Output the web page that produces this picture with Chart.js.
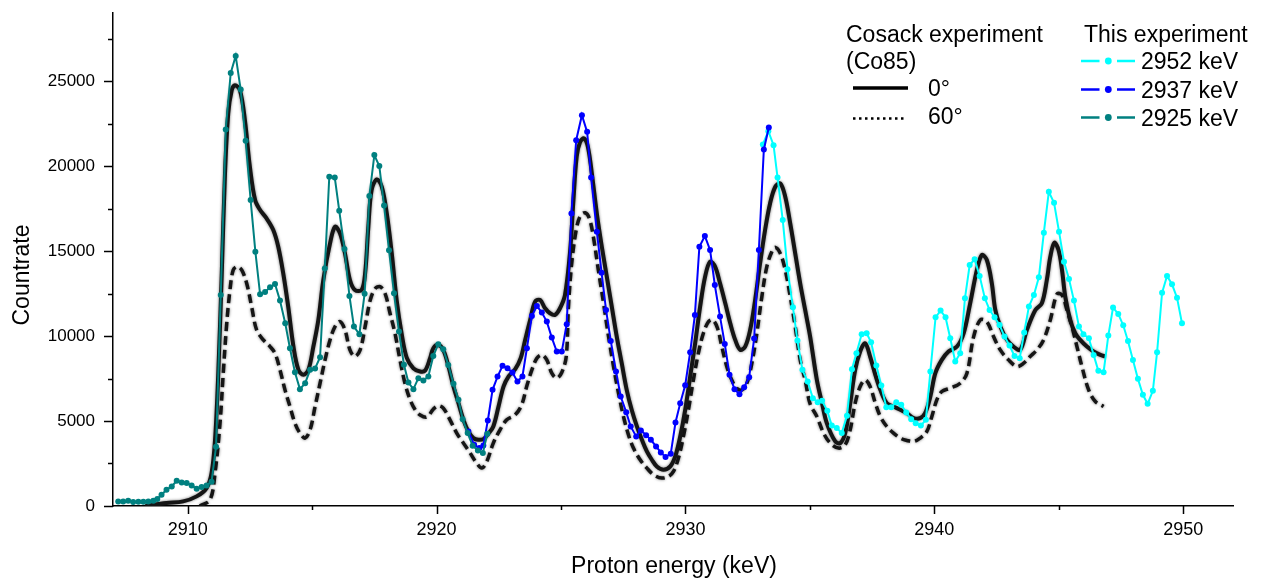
<!DOCTYPE html>
<html>
<head>
<meta charset="utf-8">
<title>Countrate vs proton energy</title>
<script src="https://cdn.jsdelivr.net/npm/chart.js@4.4.0/dist/chart.umd.min.js"></script>
<style>
  html, body { margin: 0; padding: 0; background: #ffffff; }
  canvas { display: block; }
</style>
</head>
<body>
<canvas id="spectrum" width="1265" height="581"></canvas>
<script>
// ---- Axis ticks ----
const xMajorTicks = [2910, 2920, 2930, 2940, 2950];
const xMinorTicks = [2915, 2925, 2935, 2945];
const yMajorTicks = [0, 5000, 10000, 15000, 20000, 25000];
const yMinorTicks = [2500, 7500, 12500, 17500, 22500, 27500];

// ---- This experiment: beam energy 2925 keV ----
const energy2925 = [2907.21, 2907.41, 2907.61, 2907.81, 2908.02, 2908.22, 2908.42, 2908.62, 2908.78, 2908.95,
  2909.15, 2909.36, 2909.56, 2909.76, 2909.96, 2910.16, 2910.36, 2910.56, 2910.76, 2910.96,
  2911.14, 2911.33, 2911.53, 2911.73, 2911.93, 2912.13, 2912.33, 2912.53, 2912.72, 2912.91,
  2913.11, 2913.31, 2913.51, 2913.71, 2913.92, 2914.11, 2914.31, 2914.51, 2914.72, 2914.92,
  2915.12, 2915.32, 2915.51, 2915.69, 2915.91, 2916.09, 2916.30, 2916.50, 2916.68, 2916.90,
  2917.11, 2917.30, 2917.50, 2917.70, 2917.89, 2918.09, 2918.29, 2918.49, 2918.69, 2918.87,
  2919.07, 2919.27, 2919.47, 2919.67, 2919.87, 2920.07, 2920.27, 2920.47, 2920.68, 2920.88,
  2921.05, 2921.25, 2921.45, 2921.66, 2921.86, 2922.04];
const rate2925 = [272, 272, 311, 233, 253, 253, 272, 311, 409, 664,
  958, 1153, 1486, 1388, 1350, 1212, 1016, 1114, 1212, 1428,
  3485, 12410, 22149, 25476, 26475, 24498, 21481, 17996, 14960, 12452,
  12589, 12863, 13059, 12081, 10750, 9282, 7872, 6874, 7226, 8010,
  8088, 8754, 13964, 19366, 19327, 17369, 15125, 12354, 10554, 10103,
  12491, 18232, 20641, 19994, 17682, 15041, 12510, 10260, 8302, 7265,
  6874, 7520, 7383, 7618, 8830, 9516, 9222, 8301, 7185, 6245,
  5109, 4287, 3543, 3268, 3112, 4248];

// ---- This experiment: beam energy 2937 keV ----
const energy2937 = [2921.28, 2921.51, 2921.72, 2921.88, 2922.06, 2922.25, 2922.45, 2922.65, 2922.85, 2923.05,
  2923.25, 2923.45, 2923.63, 2923.83, 2924.03, 2924.23, 2924.43, 2924.63, 2924.83, 2925.03,
  2925.23, 2925.42, 2925.61, 2925.84, 2926.05, 2926.21, 2926.44, 2926.63, 2926.81, 2927.00,
  2927.21, 2927.40, 2927.62, 2927.80, 2928.02, 2928.21, 2928.42, 2928.61, 2928.82, 2929.01,
  2929.20, 2929.41, 2929.60, 2929.79, 2929.99, 2930.19, 2930.38, 2930.56, 2930.78, 2930.99,
  2931.18, 2931.39, 2931.58, 2931.77, 2931.97, 2932.17, 2932.36, 2932.56, 2932.76, 2932.95,
  2933.15, 2933.35];
const rate2937 = [4385, 3601, 3406, 3562, 5031, 6833, 7616, 8243, 8106, 7851,
  7322, 7616, 9281, 11180, 11768, 11376, 10847, 9907, 9085, 9085,
  10691, 17212, 21520, 22989, 22010, 19327, 16135, 13726, 11533, 9711,
  7910, 6441, 5521, 4678, 4091, 4443, 4169, 3895, 3503, 3151,
  2877, 3073, 4913, 6049, 7107, 9046, 11239, 15253, 15880, 15058,
  13001, 11141, 9535, 7714, 6872, 6578, 6989, 7577, 9848, 15058,
  20972, 22264];

// ---- This experiment: beam energy 2952 keV ----
const energy2952 = [2933.11, 2933.33, 2933.54, 2933.70, 2933.91, 2934.10, 2934.32, 2934.50, 2934.70, 2934.91,
  2935.12, 2935.31, 2935.49, 2935.70, 2935.88, 2936.08, 2936.28, 2936.49, 2936.69, 2936.87,
  2937.08, 2937.28, 2937.46, 2937.67, 2937.87, 2938.07, 2938.27, 2938.47, 2938.67, 2938.87,
  2939.07, 2939.25, 2939.46, 2939.66, 2939.84, 2940.05, 2940.25, 2940.45, 2940.64, 2940.84,
  2941.04, 2941.23, 2941.42, 2941.62, 2941.82, 2942.03, 2942.22, 2942.42, 2942.62, 2942.82,
  2943.02, 2943.22, 2943.43, 2943.61, 2943.80, 2944.00, 2944.20, 2944.40, 2944.60, 2944.81,
  2945.01, 2945.21, 2945.41, 2945.61, 2945.81, 2945.99, 2946.21, 2946.40, 2946.59, 2946.80,
  2946.99, 2947.18, 2947.39, 2947.59, 2947.78, 2947.98, 2948.18, 2948.38, 2948.57, 2948.78,
  2948.95, 2949.15, 2949.35, 2949.55, 2949.75, 2949.95];
const rate2952 = [21266, 22050, 21226, 19327, 16820, 13922, 11690, 9731, 8008, 7322,
  6343, 6108, 6186, 5599, 4737, 4581, 4287, 5305, 8047, 8987,
  10103, 10162, 9633, 8262, 7087, 5814, 5814, 6108, 5951, 5501,
  5109, 4874, 4737, 5070, 7910, 11102, 11493, 11102, 9868, 8497,
  8987, 12218, 14176, 14509, 13530, 12218, 11533, 11102, 10651, 9966,
  9437, 8830, 8693, 10201, 11728, 12414, 13452, 16076, 18485, 17838,
  16135, 14372, 13354, 12081, 10553, 10103, 9868, 8889, 7949, 7871,
  10025, 11670, 11298, 10632, 9711, 8595, 7479, 6539, 6010, 6774,
  9046, 12551, 13530, 13041, 12255, 10751];

// ---- Cosack experiment (Co85), 0 degrees ----
const cosack0Energy = [2908.30, 2909.15, 2909.82, 2910.36, 2910.76, 2910.96, 2911.10, 2911.23, 2911.37, 2911.50,
  2911.63, 2911.77, 2911.90, 2912.10, 2912.30, 2912.50, 2912.71, 2912.91, 2913.17, 2913.44,
  2913.64, 2913.84, 2914.04, 2914.25, 2914.45, 2914.65, 2914.85, 2915.05, 2915.25, 2915.45,
  2915.72, 2915.92, 2916.12, 2916.32, 2916.52, 2916.72, 2916.99, 2917.13, 2917.26, 2917.39,
  2917.60, 2917.80, 2918.00, 2918.20, 2918.40, 2918.60, 2918.80, 2919.07, 2919.34, 2919.54,
  2919.74, 2919.87, 2920.07, 2920.27, 2920.48, 2920.68, 2920.88, 2921.08, 2921.28, 2921.48,
  2921.68, 2921.88, 2922.08, 2922.28, 2922.49, 2922.69, 2922.89, 2923.16, 2923.38, 2923.56,
  2923.76, 2923.96, 2924.16, 2924.36, 2924.56, 2924.76, 2924.96, 2925.16, 2925.37, 2925.50,
  2925.63, 2925.77, 2925.93, 2926.08, 2926.24, 2926.44, 2926.64, 2926.84, 2927.04, 2927.24,
  2927.44, 2927.64, 2927.84, 2928.05, 2928.25, 2928.45, 2928.65, 2928.85, 2929.12, 2929.39,
  2929.59, 2929.79, 2929.99, 2930.19, 2930.39, 2930.59, 2930.79, 2930.99, 2931.19, 2931.39,
  2931.60, 2931.80, 2932.00, 2932.20, 2932.40, 2932.60, 2932.80, 2933.00, 2933.20, 2933.40,
  2933.61, 2933.81, 2934.01, 2934.21, 2934.41, 2934.61, 2934.81, 2935.01, 2935.28, 2935.48,
  2935.68, 2936.02, 2936.22, 2936.42, 2936.62, 2936.82, 2937.02, 2937.22, 2937.42, 2937.63,
  2937.83, 2938.09, 2938.36, 2938.63, 2938.90, 2939.17, 2939.43, 2939.63, 2939.84, 2940.04,
  2940.30, 2940.57, 2940.91, 2941.18, 2941.44, 2941.71, 2941.91, 2942.11, 2942.31, 2942.45,
  2942.65, 2942.92, 2943.18, 2943.45, 2943.72, 2944.06, 2944.32, 2944.52, 2944.66, 2944.82,
  2944.99, 2945.13, 2945.26, 2945.46, 2945.66, 2945.86, 2946.13, 2946.40, 2946.67, 2946.87];
const cosack0Rate = [0, 174, 272, 566, 1056, 1938, 3895, 7812, 13687, 19562,
  23087, 24458, 24751, 24458, 22696, 19953, 17996, 17408, 16918, 16233,
  15253, 13687, 11729, 9378, 8008, 7714, 8008, 9378, 10945, 13295,
  15449, 16428, 16036, 14862, 13295, 12707, 12707, 13687, 16428, 18584,
  19210, 18780, 17212, 14862, 12080, 10119, 8734, 8100, 7910, 7968,
  8693, 9281, 9476, 9183, 8203, 7028, 6049, 5070, 4385, 3993,
  3895, 3934, 4248, 4678, 5853, 7028, 7616, 8047, 8693, 9770,
  10945, 12022, 12120, 11631, 11337, 11239, 11631, 12400, 15058, 17995,
  20541, 21422, 21618, 21128, 19562, 17212, 15253, 13491, 11728, 9966,
  8399, 6833, 5658, 4678, 3895, 3210, 2720, 2328, 2133, 2328,
  2916, 4091, 5658, 7616, 9574, 11728, 13491, 14372, 14078, 13099,
  11924, 10749, 9770, 9183, 9378, 10358, 12120, 14274, 16233, 17799,
  18778, 18974, 18191, 16624, 14862, 13099, 11533, 9966, 7420, 6100,
  4874, 3797, 3699, 4287, 6049, 8008, 9085, 9574, 8791, 7714,
  6833, 6049, 5853, 5658, 5462, 5168, 5168, 5462, 6441, 7812,
  8595, 9085, 9378, 10162, 11924, 13883, 14764, 14470, 13099, 11533,
  10553, 9770, 9378, 9183, 10358, 11533, 11924, 13295, 14666, 15488,
  15058, 13883, 12316, 10945, 10162, 9770, 9378, 9085, 8889, 8791];

// ---- Cosack experiment (Co85), 60 degrees ----
const cosack60Energy = [2910.49, 2910.90, 2911.10, 2911.30, 2911.43, 2911.57, 2911.70, 2911.83, 2911.99, 2912.17,
  2912.37, 2912.57, 2912.77, 2913.04, 2913.31, 2913.51, 2913.71, 2913.91, 2914.11, 2914.31,
  2914.51, 2914.72, 2914.92, 2915.12, 2915.32, 2915.52, 2915.72, 2915.92, 2916.12, 2916.32,
  2916.52, 2916.72, 2916.93, 2917.13, 2917.33, 2917.53, 2917.73, 2917.93, 2918.13, 2918.33,
  2918.53, 2918.73, 2918.94, 2919.14, 2919.34, 2919.61, 2919.87, 2920.07, 2920.27, 2920.54,
  2920.81, 2921.08, 2921.35, 2921.61, 2921.82, 2922.02, 2922.28, 2922.55, 2922.82, 2923.16,
  2923.42, 2923.62, 2923.83, 2924.03, 2924.23, 2924.43, 2924.63, 2924.83, 2925.03, 2925.21,
  2925.30, 2925.43, 2925.61, 2925.77, 2925.97, 2926.14, 2926.30, 2926.50, 2926.71, 2926.91,
  2927.11, 2927.31, 2927.51, 2927.71, 2927.91, 2928.18, 2928.45, 2928.72, 2929.05, 2929.32,
  2929.52, 2929.72, 2929.92, 2930.12, 2930.32, 2930.52, 2930.72, 2930.93, 2931.10, 2931.29,
  2931.46, 2931.66, 2931.86, 2932.06, 2932.27, 2932.47, 2932.67, 2932.87, 2933.07, 2933.27,
  2933.47, 2933.61, 2933.81, 2934.01, 2934.21, 2934.41, 2934.61, 2934.81, 2935.01, 2935.28,
  2935.55, 2935.82, 2936.15, 2936.42, 2936.62, 2936.82, 2937.02, 2937.22, 2937.42, 2937.63,
  2937.83, 2938.09, 2938.36, 2938.63, 2938.90, 2939.17, 2939.43, 2939.70, 2939.90, 2940.10,
  2940.30, 2940.64, 2941.04, 2941.31, 2941.58, 2941.85, 2942.11, 2942.38, 2942.65, 2942.98,
  2943.32, 2943.59, 2943.85, 2944.12, 2944.39, 2944.66, 2944.93, 2945.13, 2945.33, 2945.53,
  2945.73, 2945.93, 2946.20, 2946.47, 2946.80];
const cosack60Rate = [0, 370, 1938, 4876, 7812, 10750, 12707, 13883, 14079, 13883,
  13100, 11729, 10358, 9771, 9378, 8986, 8008, 6833, 5853, 4876,
  4288, 3994, 4483, 5853, 7224, 8595, 9771, 10554, 10847, 10358,
  9183, 8791, 9183, 10554, 12080, 12785, 12903, 12511, 11337, 10162,
  8595, 7224, 6245, 5658, 5350, 5227, 5697, 5893, 5756, 5070,
  4287, 3699, 3112, 2524, 2231, 2622, 3699, 4483, 5070, 5364,
  5951, 7028, 8008, 8693, 8889, 8595, 7812, 7518, 7851, 8791,
  11728, 14274, 16233, 17055, 17251, 16918, 15841, 13883, 11924, 9966,
  8203, 6637, 5266, 4189, 3406, 2720, 2231, 1839, 1643, 1741,
  2035, 2818, 4091, 5658, 7420, 8987, 10162, 10847, 10945, 10456,
  9378, 8203, 7420, 6931, 6833, 7224, 8399, 10162, 12316, 14078,
  14960, 15215, 14862, 13883, 12316, 10553, 8595, 7400, 6000, 5266,
  4287, 3699, 3406, 3601, 4483, 6049, 7028, 7420, 7028, 6049,
  5266, 4678, 4287, 3993, 3856, 3797, 3993, 4385, 5266, 6245,
  6735, 6931, 7224, 7812, 9966, 10945, 10847, 9966, 9183, 8595,
  8203, 8399, 8791, 9183, 9770, 10945, 12473, 12414, 11533, 10553,
  9378, 8203, 6833, 6147, 5853];

const FONT = '"Liberation Sans", Arial, Helvetica, sans-serif';
const INK = '#000000';

function toPoints(xs, ys) {
  return xs.map((x, i) => ({ x: x, y: ys[i] }));
}

function measuredSeries(label, xs, ys, color, order) {
  return {
    label: label,
    data: toPoints(xs, ys),
    borderColor: color,
    backgroundColor: color,
    pointBackgroundColor: color,
    borderWidth: 2,
    pointRadius: 3,
    pointHoverRadius: 3,
    pointBorderWidth: 0,
    tension: 0,
    fill: false,
    order: order
  };
}

// Soft, scanned-ink look for the two reference curves
const inkHaze = {
  id: 'inkHaze',
  beforeDatasetDraw(chart, args) {
    const ds = chart.data.datasets[args.index];
    if (!ds.haze) return;
    const ctx = chart.ctx;
    ctx.save();
    ctx.shadowColor = 'rgba(0,0,0,0.55)';
    ctx.shadowBlur = 3;
  },
  afterDatasetDraw(chart, args) {
    const ds = chart.data.datasets[args.index];
    if (ds.haze) chart.ctx.restore();
  }
};

// Outward tick marks: long at labelled values, short in between
const tickMarks = {
  id: 'tickMarks',
  afterDraw(chart) {
    const { ctx, chartArea } = chart;
    const xs = chart.scales.x, ys = chart.scales.y;
    ctx.save();
    ctx.strokeStyle = INK;
    ctx.lineWidth = 1.5;
    ctx.beginPath();
    xMajorTicks.forEach(v => {
      const px = Math.round(xs.getPixelForValue(v)) + 0.5;
      ctx.moveTo(px, chartArea.bottom); ctx.lineTo(px, chartArea.bottom + 8);
    });
    xMinorTicks.forEach(v => {
      const px = Math.round(xs.getPixelForValue(v)) + 0.5;
      ctx.moveTo(px, chartArea.bottom); ctx.lineTo(px, chartArea.bottom + 4);
    });
    yMajorTicks.forEach(v => {
      const py = Math.round(ys.getPixelForValue(v)) + 0.5;
      ctx.moveTo(chartArea.left, py); ctx.lineTo(chartArea.left - 9, py);
    });
    yMinorTicks.forEach(v => {
      const py = Math.round(ys.getPixelForValue(v)) + 0.5;
      ctx.moveTo(chartArea.left, py); ctx.lineTo(chartArea.left - 5, py);
    });
    ctx.stroke();
    ctx.restore();
  }
};

// Axis titles
const axisTitles = {
  id: 'axisTitles',
  afterDraw(chart) {
    const ctx = chart.ctx;
    ctx.save();
    ctx.fillStyle = INK;
    ctx.font = '23px ' + FONT;
    ctx.textAlign = 'center';
    ctx.textBaseline = 'middle';
    ctx.fillText('Proton energy (keV)', 674, 567);
    ctx.translate(23, 275);
    ctx.rotate(-Math.PI / 2);
    ctx.fillText('Countrate', 0, 0);
    ctx.restore();
  }
};

// Two-column key: reference curves on the left, measured runs on the right
const runKey = {
  id: 'runKey',
  afterDraw(chart) {
    const ctx = chart.ctx;
    const ds = chart.data.datasets;
    ctx.save();
    ctx.fillStyle = INK;
    ctx.font = '23px ' + FONT;
    ctx.textAlign = 'left';
    ctx.textBaseline = 'alphabetic';

    ctx.fillText('Cosack experiment', 846, 42);
    ctx.fillText('(Co85)', 846, 69);
    ctx.fillText(ds[3].label, 928, 96);
    ctx.fillText(ds[4].label, 928, 124);

    ctx.strokeStyle = INK;
    ctx.lineWidth = 3.3;
    ctx.beginPath(); ctx.moveTo(853, 88); ctx.lineTo(908, 88); ctx.stroke();
    ctx.lineWidth = 2.5;
    ctx.setLineDash([2.5, 3.5]);
    ctx.beginPath(); ctx.moveTo(853, 118.5); ctx.lineTo(907, 118.5); ctx.stroke();
    ctx.setLineDash([]);

    ctx.fillText('This experiment', 1084, 42);
    const rows = [
      { d: ds[2], y: 61 },
      { d: ds[1], y: 89.5 },
      { d: ds[0], y: 117.5 }
    ];
    rows.forEach(r => {
      ctx.strokeStyle = r.d.borderColor;
      ctx.lineWidth = 2.5;
      ctx.beginPath();
      ctx.moveTo(1081, r.y); ctx.lineTo(1099.5, r.y);
      ctx.moveTo(1117, r.y); ctx.lineTo(1135, r.y);
      ctx.stroke();
      ctx.fillStyle = r.d.borderColor;
      ctx.beginPath(); ctx.arc(1108.3, r.y, 3.4, 0, Math.PI * 2); ctx.fill();
      ctx.fillStyle = INK;
      ctx.fillText(r.d.label, 1141, r.y + 8.3);
    });
    ctx.restore();
  }
};

new Chart(document.getElementById('spectrum'), {
  type: 'line',
  data: {
    datasets: [
      measuredSeries('2925 keV', energy2925, rate2925, '#008080', 0),
      measuredSeries('2937 keV', energy2937, rate2937, '#0000ff', 1),
      measuredSeries('2952 keV', energy2952, rate2952, '#00ffff', 2),
      {
        label: '0°',
        data: toPoints(cosack0Energy, cosack0Rate),
        borderColor: '#151515',
        borderWidth: 4,
        pointRadius: 0,
        tension: 0.35,
        fill: false,
        haze: true,
        order: 3
      },
      {
        label: '60°',
        data: toPoints(cosack60Energy, cosack60Rate),
        borderColor: '#151515',
        borderWidth: 3.5,
        borderDash: [9, 5],
        pointRadius: 0,
        tension: 0.35,
        fill: false,
        haze: true,
        order: 4
      }
    ]
  },
  options: {
    responsive: false,
    animation: false,
    devicePixelRatio: 1,
    events: [],
    layout: { padding: { top: 13, right: 32, left: 0, bottom: 0 } },
    plugins: {
      legend: { display: false },
      tooltip: { enabled: false },
      title: { display: false }
    },
    scales: {
      x: {
        type: 'linear',
        min: 2907,
        max: 2952,
        afterBuildTicks: s => { s.ticks = xMajorTicks.map(v => ({ value: v })); },
        afterFit: s => { s.height = 75; s.paddingLeft = 0; s.paddingRight = 0; },
        grid: { display: true, drawOnChartArea: false, drawTicks: false, color: 'rgba(0,0,0,0)' },
        border: { display: true, color: INK, width: 1.5 },
        ticks: {
          color: INK,
          font: { family: FONT, size: 18 },
          padding: 13,
          maxRotation: 0,
          autoSkip: false,
          callback: v => String(v)
        }
      },
      y: {
        type: 'linear',
        min: 0,
        max: 29000,
        afterBuildTicks: s => { s.ticks = yMajorTicks.map(v => ({ value: v })); },
        afterFit: s => { s.width = 113; s.paddingTop = 0; s.paddingBottom = 0; },
        grid: { display: true, drawOnChartArea: false, drawTicks: false, color: 'rgba(0,0,0,0)' },
        border: { display: true, color: INK, width: 1.5 },
        ticks: {
          color: INK,
          font: { family: FONT, size: 17 },
          padding: 18,
          autoSkip: false,
          callback: v => String(v)
        }
      }
    }
  },
  plugins: [inkHaze, tickMarks, axisTitles, runKey]
});
</script>
</body>
</html>
